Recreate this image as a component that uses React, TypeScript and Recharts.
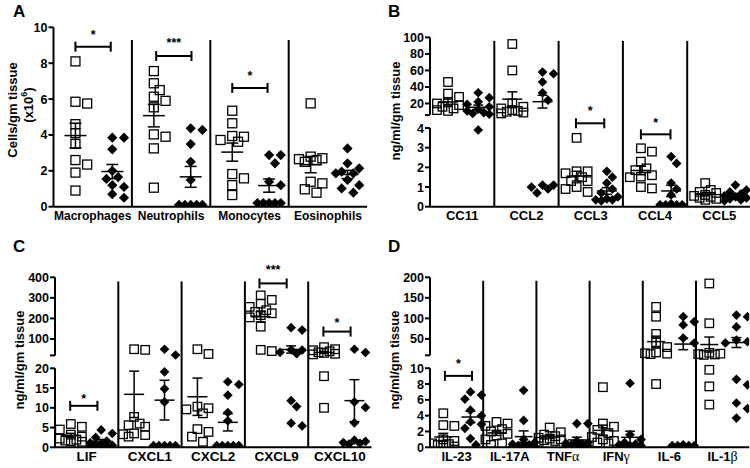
import React from 'react';
import { ScatterChart, Scatter, XAxis, YAxis, ReferenceLine, ReferenceDot } from 'recharts';

const FONT = '"Liberation Sans", Arial, Helvetica, sans-serif';

// ---------------- DATA ----------------
// Panel A: cells/gm tissue (x10^6)
const A_CATEGORIES = ['Macrophages', 'Neutrophils', 'Monocytes', 'Eosinophils'];
const A_CONTROL = [
  [8.1, 5.85, 5.75, 4.6, 4.1, 3.5, 2.6, 2.35, 1.9, 0.9],
  [7.56, 6.88, 6.5, 6.13, 5.9, 5.54, 4.03, 3.9, 3.25, 1.06],
  [5.35, 4.65, 3.94, 3.9, 3.72, 3.62, 1.82, 1.58, 1.2, 0.65],
  [5.76, 2.79, 2.7, 2.65, 2.6, 2.5, 1.39, 1.3, 0.97, 0.78],
];
const A_TREATED = [
  [3.85, 3.85, 3.2, 2.0, 1.65, 1.55, 1.2, 1.1, 0.7, 0.5],
  [4.37, 4.28, 3.49, 2.5, 1.49, 0.1, 0.1, 0.1, 0.1, 0.1],
  [2.88, 2.88, 2.42, 1.39, 1.2, 0.2, 0.2, 0.2, 0.2, 0.2],
  [3.25, 2.42, 2.14, 1.95, 1.86, 1.86, 1.49, 1.2, 1.02, 0.78],
];
const A_SIGNIF = ['*', '***', '*', ''];
const A_LOW_TICKS = [0, 2, 4, 6, 8, 10];
const A_UP_TICKS: number[] = [];

// Panel B: ng/ml/gm tissue
const B_CATEGORIES = ['CC11', 'CCL2', 'CCL3', 'CCL4', 'CCL5'];
const B_CONTROL = [
  [46, 32, 28, 22, 20, 18, 16, 14, 12, 11],
  [92, 60, 20, 16, 14, 12, 11, 10, 9, 8],
  [3.5, 1.8, 1.8, 1.7, 1.5, 1.3, 1.3, 1.0, 0.9, 0.75],
  [2.97, 2.8, 2.29, 1.95, 1.86, 1.6, 1.53, 1.5, 1.0, 0.93],
  [1.2, 0.85, 0.75, 0.7, 0.6, 0.55, 0.5, 0.45, 0.4, 0.35],
];
const B_TREATED = [
  [33, 27, 22, 19, 16, 13, 11, 9, 8, 7, 3.9],
  [58, 56, 46, 33, 24, 1.1, 1.1, 1.0, 0.9, 0.7],
  [1.8, 1.5, 1.2, 0.9, 0.7, 0.5, 0.4, 0.35, 0.35, 0.3],
  [2.55, 2.2, 1.2, 0.9, 0.6, 0.15, 0.1, 0.1, 0.1, 0.1],
  [1.1, 0.85, 0.75, 0.65, 0.55, 0.5, 0.45, 0.4, 0.35, 0.3],
];
const B_SIGNIF = ['', '', '*', '*', ''];
const B_LOW_TICKS = [0, 1, 2, 3, 4];
const B_UP_TICKS = [20, 40, 60, 80, 100];

// Panel C: ng/ml/gm tissue
const C_CATEGORIES = ['LIF', 'CXCL1', 'CXCL2', 'CXCL9', 'CXCL10'];
const C_CONTROL = [
  [5.9, 5.2, 4.5, 3.2, 2.7, 2.2, 1.9, 1.7, 1.5, 1.4],
  [50, 47, 7.7, 6.0, 5.6, 5.2, 3.5, 3.3, 3.1, 2.7],
  [50, 27, 10.3, 9.9, 9.6, 8.6, 4.6, 3.9, 2.7, 1.4],
  [312, 290, 272, 256, 240, 232, 225, 216, 205, 160, 47, 41],
  [60, 50, 45, 40, 35, 32, 28, 25, 18, 10],
];
const C_TREATED = [
  [4.4, 3.5, 2.5, 1.6, 1.1, 0.8, 0.5, 0.4, 0.3, 0.2],
  [50, 22, 19.1, 14.8, 11.5, 0.4, 0.4, 0.4, 0.4, 0.4],
  [16.6, 15.9, 13.2, 8.8, 6.7, 0.4, 0.4, 0.4, 0.4, 0.4],
  [155, 143, 47, 46, 35, 28, 11.8, 10.3, 6.1, 5.4],
  [50, 34, 11.5, 10.1, 6.2, 1.8, 1.5, 1.2, 1.0, 0.8],
];
const C_SIGNIF = ['*', '', '', '***', '*'];
const C_LOW_TICKS = [0, 5, 10, 15, 20];
const C_UP_TICKS = [100, 200, 300, 400];

// Panel D: ng/ml/gm tissue
const D_CATEGORIES = ['IL-23', 'IL-17A', 'TNFα', 'IFNγ', 'IL-6', 'IL-1β'];
const D_CONTROL = [
  [4.3, 2.8, 2.7, 1.0, 0.8, 0.5, 0.4, 0.3, 0.2, 0.1],
  [3.2, 3.0, 2.7, 2.3, 2.0, 1.7, 1.5, 1.0, 0.5, 0.3],
  [2.5, 1.9, 1.6, 1.4, 1.2, 1.1, 1.0, 0.9, 0.8, 0.7],
  [7.6, 3.0, 2.6, 2.2, 1.8, 1.3, 1.0, 0.8, 0.6, 0.5],
  [128, 104, 62, 42, 30, 17, 15, 14, 13, 8],
  [185, 88, 16, 14, 13, 12, 11, 9.8, 7.7, 5.4],
];
const D_TREATED = [
  [7.0, 6.6, 6.1, 4.7, 4.0, 3.2, 2.9, 2.4, 1.1, 0.3],
  [7.2, 3.4, 1.0, 0.6, 0.4, 0.3, 0.2, 0.2, 0.1, 0.1],
  [3.0, 3.0, 0.8, 0.6, 0.5, 0.4, 0.3, 0.3, 0.2, 0.2],
  [8.1, 1.6, 1.0, 0.6, 0.4, 0.3, 0.2, 0.2, 0.1, 0.1],
  [104, 92, 84, 52, 40, 0.3, 0.2, 0.2, 0.2, 0.2],
  [108, 104, 79, 47, 43, 40, 8.6, 7.9, 5.6, 4.9, 3.7],
];
const D_SIGNIF = ['*', '', '', '', '', ''];
const D_LOW_TICKS = [0, 2, 4, 6, 8, 10];
const D_UP_TICKS = [50, 100, 150, 200];

// ---------------- LAYOUT ----------------
type Brk = { lowMax: number; upMin: number; gap: number; upK: number };
type Bracket = { g: number; x1: number; x2: number; y: number; ly: number };
interface PanelCfg {
  letter: string;
  left: number; top: number; width: number; height: number;
  plotLeft: number; plotTop: number; plotBottom: number; groupPx: number;
  cats: string[]; ctrl: number[][]; trt: number[][]; sig: string[];
  lowTicks: number[]; upTicks: number[];
  brk?: Brk; yTop: number; sepTop: number;
  ctrlX: number; trtX: number; meanPx: number; capPx: number; marker: number; catFs: number;
  brackets: Bracket[];
}

const PANELS: PanelCfg[] = [
  {
    letter: 'A', left: 0, top: 0, width: 375, height: 234,
    plotLeft: 53.5, plotTop: 27.3, plotBottom: 206.7, groupPx: 78.4,
    cats: A_CATEGORIES, ctrl: A_CONTROL, trt: A_TREATED, sig: A_SIGNIF,
    lowTicks: A_LOW_TICKS, upTicks: A_UP_TICKS, yTop: 10, sepTop: 9.29,
    ctrlX: 0.28, trtX: 0.75, meanPx: 22, capPx: 12, marker: 9, catFs: 12,
    brackets: [
      { g: 0, x1: 0.28, x2: 0.73, y: 8.92, ly: 9.74 },
      { g: 1, x1: 0.31, x2: 0.76, y: 8.4, ly: 9.29 },
      { g: 2, x1: 0.28, x2: 0.73, y: 6.62, ly: 7.44 },
    ],
  },
  {
    letter: 'B', left: 375, top: 0, width: 385, height: 234,
    plotLeft: 55, plotTop: 37.4, plotBottom: 206.7, groupPx: 64.3,
    cats: B_CATEGORIES, ctrl: B_CONTROL, trt: B_TREATED, sig: B_SIGNIF,
    lowTicks: B_LOW_TICKS, upTicks: B_UP_TICKS,
    brk: { lowMax: 4, upMin: 6, gap: 0.66, upK: 0.042 }, yTop: 100, sepTop: 8.43,
    ctrlX: 0.28, trtX: 0.75, meanPx: 20, capPx: 10, marker: 8.5, catFs: 13,
    brackets: [
      { g: 2, x1: 0.27, x2: 0.71, y: 4.24, ly: 5.02 },
      { g: 3, x1: 0.28, x2: 0.74, y: 3.68, ly: 4.41 },
    ],
  },
  {
    letter: 'C', left: 0, top: 234, width: 380, height: 234,
    plotLeft: 55, plotTop: 43.3, plotBottom: 213.3, groupPx: 63.3,
    cats: C_CATEGORIES, ctrl: C_CONTROL, trt: C_TREATED, sig: C_SIGNIF,
    lowTicks: C_LOW_TICKS, upTicks: C_UP_TICKS,
    brk: { lowMax: 20, upMin: 20, gap: 3.27, upK: 0.05204 }, yTop: 400, sepTop: 42.0,
    ctrlX: 0.25, trtX: 0.73, meanPx: 20, capPx: 10, marker: 8.5, catFs: 13.5,
    brackets: [
      { g: 0, x1: 0.24, x2: 0.67, y: 10.5, ly: 13.1 },
      { g: 3, x1: 0.23, x2: 0.66, y: 41.5, ly: 45.6 },
      { g: 4, x1: 0.24, x2: 0.67, y: 29.3, ly: 32.2 },
    ],
  },
  {
    letter: 'D', left: 375, top: 234, width: 385, height: 234,
    plotLeft: 55, plotTop: 43.3, plotBottom: 213.3, groupPx: 53.2,
    cats: D_CATEGORIES, ctrl: D_CONTROL, trt: D_TREATED, sig: D_SIGNIF,
    lowTicks: D_LOW_TICKS, upTicks: D_UP_TICKS,
    brk: { lowMax: 10, upMin: 10, gap: 1.633, upK: 0.0519 }, yTop: 200, sepTop: 21.06,
    ctrlX: 0.25, trtX: 0.76, meanPx: 18, capPx: 10, marker: 8.5, catFs: 13,
    brackets: [{ g: 0, x1: 0.28, x2: 0.79, y: 9.03, ly: 10.96 }],
  },
];

// ---------------- HELPERS ----------------
function makeT(b?: Brk) {
  if (!b) return (v: number) => v;
  return (v: number) => {
    if (v <= b.lowMax) return v;
    if (v >= b.upMin) return b.lowMax + b.gap + (v - b.upMin) * b.upK;
    const f = (v - b.lowMax) / (b.upMin - b.lowMax);
    return b.lowMax + f * b.gap;
  };
}

function stats(v: number[]) {
  const n = v.length;
  const m = v.reduce((a, b) => a + b, 0) / n;
  const sd = Math.sqrt(v.reduce((a, b) => a + (b - m) * (b - m), 0) / (n - 1));
  return { m, se: sd / Math.sqrt(n) };
}

// deterministic horizontal spreading of overlapping markers (pixels)
function swarm(vals: number[], T: (v: number) => number, pxY: number, size: number) {
  const placed: { x: number; y: number }[] = [];
  const cands = [0, 1, -1, 2, -2].map((k) => k * size * 0.65);
  return vals.map((v) => {
    const y = T(v) * pxY;
    let best = 0;
    let bestD = -1;
    for (const c of cands) {
      let md = Infinity;
      for (const p of placed) md = Math.min(md, Math.hypot(p.x - c, p.y - y));
      if (md >= size * 0.95) { best = c; break; }
      if (md > bestD) { bestD = md; best = c; }
    }
    placed.push({ x: best, y });
    return best;
  });
}

const squareShape = (size: number) => (p: any) => {
  const { cx, cy } = p;
  if (cx == null || cy == null) return <g />;
  const h = size / 2;
  return <rect x={cx - h} y={cy - h} width={size} height={size} fill="none" stroke="#000" strokeWidth={1.3} />;
};
const diamondShape = (size: number) => (p: any) => {
  const { cx, cy } = p;
  if (cx == null || cy == null) return <g />;
  const h = size / 2 + 0.6;
  return <polygon points={`${cx},${cy - h} ${cx + h},${cy} ${cx},${cy + h} ${cx - h},${cy}`} fill="#000" />;
};

const XTick = (props: any) => {
  const { x, y, payload, cats, fs } = props;
  const label: string = cats[Math.floor(payload.value)] ?? '';
  const m = label.match(/^(.*?)([αβγ])$/);
  return (
    <text x={x} y={y + 13.5} textAnchor="middle" fontFamily={FONT} fontWeight="bold" fontSize={fs} fill="#000">
      {m ? (
        <>
          {m[1]}
          <tspan fontFamily='"Liberation Serif", "DejaVu Serif", serif' fontWeight="normal" fontSize={fs + 1}>{m[2]}</tspan>
        </>
      ) : label}
    </text>
  );
};

const YTick = (props: any) => {
  const { x, y, payload, fmt } = props;
  return (
    <text x={x} y={y} dy="0.36em" textAnchor="end" fontFamily={FONT} fontWeight="bold" fontSize={12.5} fill="#000">
      {fmt(payload.value)}
    </text>
  );
};

function Panel({ cfg }: { cfg: PanelCfg }) {
  const T = makeT(cfg.brk);
  const n = cfg.cats.length;
  const dTop = T(cfg.yTop);
  const pxY = (cfg.plotBottom - cfg.plotTop) / dTop;
  const pxX = cfg.groupPx;

  const ctrlData: { x: number; y: number }[] = [];
  const trtData: { x: number; y: number }[] = [];
  cfg.ctrl.forEach((vals, g) => {
    const off = swarm(vals, T, pxY, cfg.marker);
    vals.forEach((v, i) => ctrlData.push({ x: g + cfg.ctrlX + off[i] / pxX, y: T(v) }));
  });
  cfg.trt.forEach((vals, g) => {
    const off = swarm(vals, T, pxY, cfg.marker);
    vals.forEach((v, i) => trtData.push({ x: g + cfg.trtX + off[i] / pxX, y: T(v) }));
  });

  let yTicks: number[];
  let yLabels: string[];
  if (!cfg.brk) {
    yTicks = cfg.lowTicks;
    yLabels = cfg.lowTicks.map(String);
  } else {
    const upStart = cfg.brk.lowMax + cfg.brk.gap;
    yTicks = [...cfg.lowTicks, upStart, ...cfg.upTicks.map(T)];
    yLabels = [...cfg.lowTicks.map(String), '', ...cfg.upTicks.map(String)];
  }
  const fmt = (v: number) => {
    const i = yTicks.findIndex((t) => Math.abs(t - v) < 1e-6);
    return i >= 0 ? yLabels[i] : '';
  };

  const lines: React.ReactElement[] = [];
  let k = 0;
  const seg = (x1: number, y1: number, x2: number, y2: number, w: number) => {
    lines.push(
      <ReferenceLine
        key={`s${k++}`}
        segment={[{ x: x1, y: y1 }, { x: x2, y: y2 }]}
        stroke="#000"
        strokeWidth={w}
        ifOverflow="visible"
      />
    );
  };

  // group separators
  for (let g = 1; g < n; g++) seg(g, 0, g, cfg.sepTop, 2);
  // broken y-axis line
  if (cfg.brk) {
    seg(0, 0, 0, cfg.brk.lowMax, 2);
    seg(0, cfg.brk.lowMax + cfg.brk.gap, 0, dTop, 2);
  }
  // mean +/- SEM
  const meanH = cfg.meanPx / 2 / pxX;
  const capH = cfg.capPx / 2 / pxX;
  const addErr = (vals: number[], xc: number) => {
    const { m, se } = stats(vals);
    const ym = T(m);
    const yHi = T(m + se);
    const yLo = T(Math.max(m - se, 0));
    seg(xc - meanH, ym, xc + meanH, ym, 1.5);
    seg(xc, yLo, xc, yHi, 1.5);
    seg(xc - capH, yHi, xc + capH, yHi, 1.5);
    seg(xc - capH, yLo, xc + capH, yLo, 1.5);
  };
  cfg.ctrl.forEach((vals, g) => addErr(vals, g + cfg.ctrlX));
  cfg.trt.forEach((vals, g) => addErr(vals, g + cfg.trtX));
  // significance brackets
  const endH = 5 / pxY;
  const dots: React.ReactElement[] = [];
  cfg.brackets.forEach((b, i) => {
    const x1 = b.g + b.x1;
    const x2 = b.g + b.x2;
    seg(x1, b.y, x2, b.y, 2);
    seg(x1, b.y - endH, x1, b.y + endH, 2);
    seg(x2, b.y - endH, x2, b.y + endH, 2);
    const label = cfg.sig[b.g];
    dots.push(
      <ReferenceDot
        key={`d${i}`}
        x={(x1 + x2) / 2}
        y={b.ly}
        r={0}
        ifOverflow="visible"
        shape={(p: any) => (
          <text x={p.cx} y={p.cy + 7} textAnchor="middle" fontFamily={FONT} fontWeight="bold" fontSize={12.5} fill="#000">
            {label}
          </text>
        )}
      />
    );
  });

  const xTicks = cfg.cats.map((_, i) => i + 0.5);

  return (
    <div style={{ position: 'absolute', left: cfg.left, top: cfg.top }}>
      <ScatterChart
        width={cfg.width}
        height={cfg.height}
        margin={{
          top: cfg.plotTop,
          left: cfg.plotLeft - 40,
          right: cfg.width - cfg.plotLeft - n * pxX,
          bottom: cfg.height - cfg.plotBottom - 20,
        }}
      >
        <XAxis
          type="number"
          dataKey="x"
          domain={[0, n]}
          ticks={xTicks}
          interval={0}
          allowDataOverflow
          height={20}
          tickLine={false}
          tickSize={0}
          tickMargin={0}
          axisLine={{ stroke: '#000', strokeWidth: 2 }}
          tick={(p: any) => <XTick {...p} cats={cfg.cats} fs={cfg.catFs} />}
        />
        <YAxis
          type="number"
          dataKey="y"
          domain={[0, dTop]}
          ticks={yTicks}
          interval={0}
          allowDataOverflow
          width={40}
          tickSize={5}
          tickMargin={1}
          tickLine={{ stroke: '#000', strokeWidth: 2 }}
          axisLine={cfg.brk ? false : { stroke: '#000', strokeWidth: 2 }}
          tickFormatter={fmt}
          tick={(p: any) => <YTick {...p} fmt={fmt} />}
        />
        {lines}
        <Scatter data={ctrlData} shape={squareShape(cfg.marker)} isAnimationActive={false} />
        <Scatter data={trtData} shape={diamondShape(cfg.marker)} isAnimationActive={false} />
        {dots}
      </ScatterChart>
    </div>
  );
}

export default function App() {
  const titleProps = {
    textAnchor: 'middle' as const,
    dominantBaseline: 'central' as const,
    fontFamily: FONT,
    fontWeight: 'bold',
    fontSize: 13,
    fill: '#000',
  };
  const letterProps = { fontFamily: FONT, fontWeight: 'bold', fontSize: 17, fill: '#000' };
  return (
    <div
      style={{
        position: 'absolute',
        left: 0,
        top: 0,
        width: 750,
        height: 468,
        overflow: 'hidden',
        background: '#fff',
      }}
    >
      {PANELS.map((p) => (
        <Panel key={p.letter} cfg={p} />
      ))}
      <svg width={750} height={468} style={{ position: 'absolute', left: 0, top: 0, pointerEvents: 'none' }}>
        <text x={13} y={17} {...letterProps}>A</text>
        <text x={388} y={17} {...letterProps}>B</text>
        <text x={13} y={252} {...letterProps}>C</text>
        <text x={388} y={252} {...letterProps}>D</text>
        <text transform="translate(12,110) rotate(-90)" {...titleProps}>Cells/gm tissue</text>
        <text transform="translate(28,105) rotate(-90)" {...titleProps}>
          (x10<tspan dy={-4} fontSize={9}>6</tspan><tspan dy={4}>)</tspan>
        </text>
        <text transform="translate(395,111) rotate(-90)" {...titleProps}>ng/ml/gm tissue</text>
        <text transform="translate(19,360) rotate(-90)" {...titleProps}>ng/ml/gm tissue</text>
        <text transform="translate(394,360) rotate(-90)" {...titleProps}>ng/ml/gm tissue</text>
      </svg>
    </div>
  );
}
